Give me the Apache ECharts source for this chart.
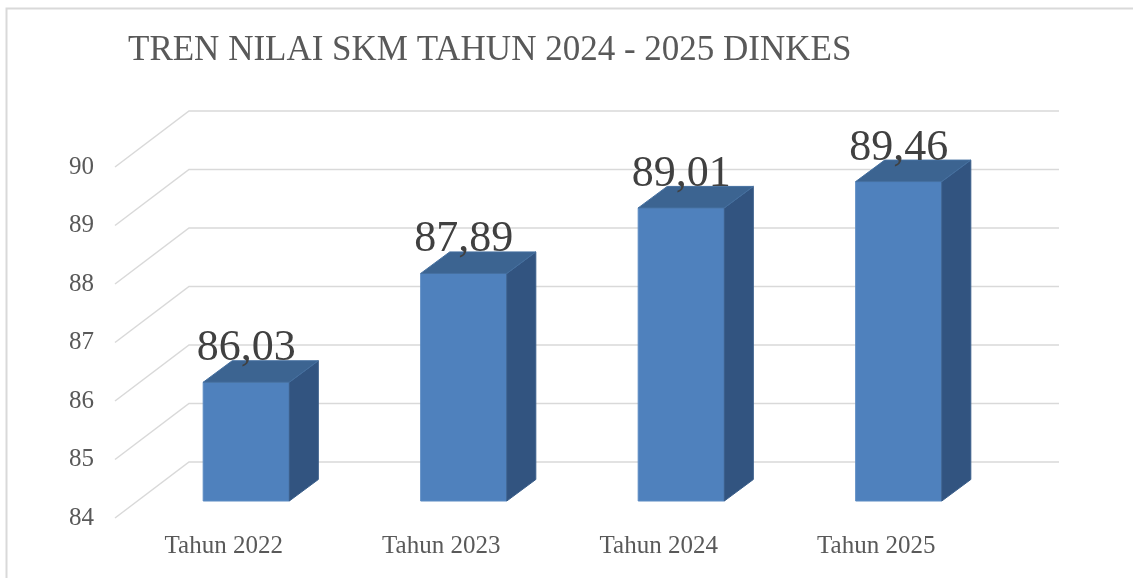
<!DOCTYPE html>
<html>
<head>
<meta charset="utf-8">
<title>Tren Nilai SKM</title>
<script src="https://cdn.jsdelivr.net/npm/echarts@6/dist/echarts.min.js"></script>
<style>
  html, body { margin: 0; padding: 0; background: #fff; }
  #main { width: 1133px; height: 578px; }
</style>
</head>
<body>
<div id="main"></div>
<script>
const categories = ['Tahun 2022', 'Tahun 2023', 'Tahun 2024', 'Tahun 2025'];
const skmValues = [86.03, 87.89, 89.01, 89.46];
const yTicks = [84, 85, 86, 87, 88, 89, 90];

// offset 3D: dinding belakang, muka depan batang, tebal batang
const DEPTH = [74, -56];
const BAR_FRONT = [22.5, -17];
const BAR_DEPTH = [29, -21.5];
const FONT = 'Liberation Serif';
const TEXT_COLOR = '#595959';

const chart = echarts.init(document.getElementById('main'));

// garis grid: diagonal di dinding kiri + garis horizontal di dinding belakang
function renderWall(params, api) {
  const cs = params.coordSys;
  const y = api.coord([0, api.value(1)])[1];
  return {
    type: 'polyline',
    shape: {
      points: [
        [cs.x, y],
        [cs.x + DEPTH[0], y + DEPTH[1]],
        [cs.x + cs.width + DEPTH[0], y + DEPTH[1]]
      ]
    },
    style: { stroke: '#D9D9D9', lineWidth: 1.5, fill: null },
    silent: true
  };
}

// batang 3D: muka depan, sisi kanan, atas + label nilai
function renderBar(params, api) {
  const i = api.value(0);
  const v = api.value(1);
  const top = api.coord([i, v]);
  const base = api.coord([i, yTicks[0]]);
  const bw = api.size([1, 0])[0] * 0.396;
  const x0 = top[0] - bw / 2 + BAR_FRONT[0];
  const x1 = x0 + bw;
  const yt = top[1] + BAR_FRONT[1];
  const yb = base[1] + BAR_FRONT[1];
  const dx = BAR_DEPTH[0];
  const dy = BAR_DEPTH[1];
  return {
    type: 'group',
    children: [
      {
        type: 'polygon',
        shape: { points: [[x0, yt], [x1, yt], [x1, yb], [x0, yb]] },
        style: { fill: '#4F81BD', stroke: '#5B8AC2', lineWidth: 1 }
      },
      {
        type: 'polygon',
        shape: { points: [[x1, yt], [x1 + dx, yt + dy], [x1 + dx, yb + dy], [x1, yb]] },
        style: { fill: '#325480', stroke: '#3A5E8A', lineWidth: 1 }
      },
      {
        type: 'polygon',
        shape: { points: [[x0, yt], [x0 + dx, yt + dy], [x1 + dx, yt + dy], [x1, yt]] },
        style: { fill: '#3C6491', stroke: '#4570A0', lineWidth: 1 }
      },
      {
        type: 'text',
        style: {
          x: (x0 + x1) / 2,
          y: yt + dy + 10,
          text: v.toFixed(2).replace('.', ','),
          fill: '#404040',
          font: '44px "' + FONT + '"',
          align: 'center',
          verticalAlign: 'bottom'
        }
      }
    ]
  };
}

const option = {
  animation: false,
  backgroundColor: '#fff',
  title: {
    text: 'TREN NILAI SKM TAHUN 2024 - 2025 DINKES',
    left: 123,
    top: 28,
    textStyle: {
      fontFamily: FONT,
      fontSize: 35,
      fontWeight: 'normal',
      color: TEXT_COLOR
    }
  },
  graphic: [
    {
      type: 'rect',
      left: 4,
      top: 6,
      shape: { width: 1150, height: 600 },
      style: { fill: null, stroke: '#D9D9D9', lineWidth: 2 },
      silent: true
    }
  ],
  grid: { left: 115, top: 167, width: 870, height: 351 },
  xAxis: {
    type: 'category',
    data: categories,
    axisLine: { show: false },
    axisTick: { show: false },
    axisLabel: {
      margin: 16,
      fontFamily: FONT,
      fontSize: 25,
      color: TEXT_COLOR
    }
  },
  yAxis: {
    type: 'value',
    min: 84,
    max: 90,
    interval: 1,
    axisLine: { show: false },
    axisTick: { show: false },
    splitLine: { show: false },
    axisLabel: {
      margin: 21,
      fontFamily: FONT,
      fontSize: 25,
      color: TEXT_COLOR
    }
  },
  series: [
    {
      type: 'custom',
      renderItem: renderWall,
      data: yTicks.map(t => [0, t]),
      silent: true,
      z: 1
    },
    {
      type: 'custom',
      name: 'Nilai SKM',
      renderItem: renderBar,
      data: skmValues.map((v, i) => [i, v]),
      z: 2
    }
  ]
};

chart.setOption(option);
</script>
</body>
</html>
